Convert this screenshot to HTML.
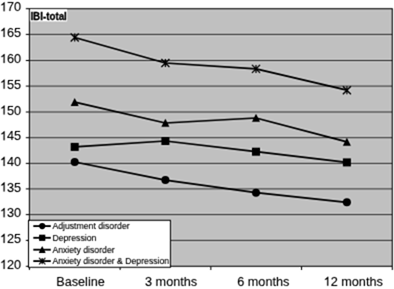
<!DOCTYPE html>
<html><head><meta charset="utf-8"><style>
html,body{margin:0;padding:0;background:#fff;width:394px;height:289px;overflow:hidden}
svg{display:block;filter:grayscale(1)}
text{font-family:"Liberation Sans",sans-serif;fill:#000}
.ax{font-size:12.7px;stroke:#000;stroke-width:0.1px}
.lg{font-size:8.7px;stroke:#000;stroke-width:0.12px}
.ttl{font-size:9.8px;font-weight:bold;stroke:#000;stroke-width:0.25px}
</style></head><body>
<svg width="394" height="289" viewBox="0 0 394 289">
<defs><filter id="bl" x="0" y="0" width="1" height="1" color-interpolation-filters="sRGB"><feConvolveMatrix order="5" kernelMatrix="4 -11 -46 -11 4 -11 32 137 32 -11 -46 137 578 137 -46 -11 32 137 32 -11 4 -11 -46 -11 4" divisor="998" edgeMode="duplicate" preserveAlpha="true"/></filter></defs>
<g filter="url(#bl)">
<rect width="394" height="289" fill="#fff"/>
<rect x="29.4" y="8.7" width="362.90000000000003" height="257.6" fill="#c0c0c0"/>
<line x1="29.4" y1="34.40" x2="392.3" y2="34.40" stroke="#333" stroke-width="1"/>
<line x1="29.4" y1="60.50" x2="392.3" y2="60.50" stroke="#333" stroke-width="1"/>
<line x1="29.4" y1="86.10" x2="392.3" y2="86.10" stroke="#333" stroke-width="1"/>
<line x1="29.4" y1="112.00" x2="392.3" y2="112.00" stroke="#333" stroke-width="1"/>
<line x1="29.4" y1="137.70" x2="392.3" y2="137.70" stroke="#333" stroke-width="1"/>
<line x1="29.4" y1="163.40" x2="392.3" y2="163.40" stroke="#333" stroke-width="1"/>
<line x1="29.4" y1="188.90" x2="392.3" y2="188.90" stroke="#333" stroke-width="1"/>
<line x1="29.4" y1="214.60" x2="392.3" y2="214.60" stroke="#333" stroke-width="1"/>
<line x1="29.4" y1="240.40" x2="392.3" y2="240.40" stroke="#333" stroke-width="1"/>
<rect x="29.4" y="8.7" width="362.90000000000003" height="257.6" fill="none" stroke="#111" stroke-width="1.1"/>
<line x1="25.8" y1="8.70" x2="29.4" y2="8.70" stroke="#000" stroke-width="1"/>
<g transform="translate(-0.089 11.30) scale(1 1.0)"><path d="M763 0H583V1147Q518 1085 412 1023Q306 961 222 930V1104Q373 1175 486 1276Q599 1377 646 1472H763Z" transform="scale(0.006201 -0.006201)" fill="#000" stroke="#000" stroke-width="16.1"/><text x="7.0631" y="0" class="ax">70</text></g>
<line x1="25.8" y1="34.40" x2="29.4" y2="34.40" stroke="#000" stroke-width="1"/>
<g transform="translate(-0.089 37.00) scale(1 1.0)"><path d="M763 0H583V1147Q518 1085 412 1023Q306 961 222 930V1104Q373 1175 486 1276Q599 1377 646 1472H763Z" transform="scale(0.006201 -0.006201)" fill="#000" stroke="#000" stroke-width="16.1"/><text x="7.0631" y="0" class="ax">65</text></g>
<line x1="25.8" y1="60.50" x2="29.4" y2="60.50" stroke="#000" stroke-width="1"/>
<g transform="translate(-0.089 63.10) scale(1 1.0)"><path d="M763 0H583V1147Q518 1085 412 1023Q306 961 222 930V1104Q373 1175 486 1276Q599 1377 646 1472H763Z" transform="scale(0.006201 -0.006201)" fill="#000" stroke="#000" stroke-width="16.1"/><text x="7.0631" y="0" class="ax">60</text></g>
<line x1="25.8" y1="86.10" x2="29.4" y2="86.10" stroke="#000" stroke-width="1"/>
<g transform="translate(-0.089 88.70) scale(1 1.0)"><path d="M763 0H583V1147Q518 1085 412 1023Q306 961 222 930V1104Q373 1175 486 1276Q599 1377 646 1472H763Z" transform="scale(0.006201 -0.006201)" fill="#000" stroke="#000" stroke-width="16.1"/><text x="7.0631" y="0" class="ax">55</text></g>
<line x1="25.8" y1="112.00" x2="29.4" y2="112.00" stroke="#000" stroke-width="1"/>
<g transform="translate(-0.089 114.60) scale(1 1.0)"><path d="M763 0H583V1147Q518 1085 412 1023Q306 961 222 930V1104Q373 1175 486 1276Q599 1377 646 1472H763Z" transform="scale(0.006201 -0.006201)" fill="#000" stroke="#000" stroke-width="16.1"/><text x="7.0631" y="0" class="ax">50</text></g>
<line x1="25.8" y1="137.70" x2="29.4" y2="137.70" stroke="#000" stroke-width="1"/>
<g transform="translate(-0.089 140.30) scale(1 1.0)"><path d="M763 0H583V1147Q518 1085 412 1023Q306 961 222 930V1104Q373 1175 486 1276Q599 1377 646 1472H763Z" transform="scale(0.006201 -0.006201)" fill="#000" stroke="#000" stroke-width="16.1"/><text x="7.0631" y="0" class="ax">45</text></g>
<line x1="25.8" y1="163.40" x2="29.4" y2="163.40" stroke="#000" stroke-width="1"/>
<g transform="translate(-0.089 166.00) scale(1 1.0)"><path d="M763 0H583V1147Q518 1085 412 1023Q306 961 222 930V1104Q373 1175 486 1276Q599 1377 646 1472H763Z" transform="scale(0.006201 -0.006201)" fill="#000" stroke="#000" stroke-width="16.1"/><text x="7.0631" y="0" class="ax">40</text></g>
<line x1="25.8" y1="188.90" x2="29.4" y2="188.90" stroke="#000" stroke-width="1"/>
<g transform="translate(-0.089 191.50) scale(1 1.0)"><path d="M763 0H583V1147Q518 1085 412 1023Q306 961 222 930V1104Q373 1175 486 1276Q599 1377 646 1472H763Z" transform="scale(0.006201 -0.006201)" fill="#000" stroke="#000" stroke-width="16.1"/><text x="7.0631" y="0" class="ax">35</text></g>
<line x1="25.8" y1="214.60" x2="29.4" y2="214.60" stroke="#000" stroke-width="1"/>
<g transform="translate(-0.089 217.20) scale(1 1.0)"><path d="M763 0H583V1147Q518 1085 412 1023Q306 961 222 930V1104Q373 1175 486 1276Q599 1377 646 1472H763Z" transform="scale(0.006201 -0.006201)" fill="#000" stroke="#000" stroke-width="16.1"/><text x="7.0631" y="0" class="ax">30</text></g>
<line x1="25.8" y1="240.40" x2="29.4" y2="240.40" stroke="#000" stroke-width="1"/>
<g transform="translate(-0.089 243.00) scale(1 1.0)"><path d="M763 0H583V1147Q518 1085 412 1023Q306 961 222 930V1104Q373 1175 486 1276Q599 1377 646 1472H763Z" transform="scale(0.006201 -0.006201)" fill="#000" stroke="#000" stroke-width="16.1"/><text x="7.0631" y="0" class="ax">25</text></g>
<line x1="25.8" y1="266.30" x2="29.4" y2="266.30" stroke="#000" stroke-width="1"/>
<g transform="translate(-0.089 268.90) scale(1 1.0)"><path d="M763 0H583V1147Q518 1085 412 1023Q306 961 222 930V1104Q373 1175 486 1276Q599 1377 646 1472H763Z" transform="scale(0.006201 -0.006201)" fill="#000" stroke="#000" stroke-width="16.1"/><text x="7.0631" y="0" class="ax">20</text></g>
<line x1="29.40" y1="266.3" x2="29.40" y2="270" stroke="#000" stroke-width="1"/>
<line x1="120.12" y1="266.3" x2="120.12" y2="270" stroke="#000" stroke-width="1"/>
<line x1="210.85" y1="266.3" x2="210.85" y2="270" stroke="#000" stroke-width="1"/>
<line x1="301.57" y1="266.3" x2="301.57" y2="270" stroke="#000" stroke-width="1"/>
<line x1="392.30" y1="266.3" x2="392.30" y2="270" stroke="#000" stroke-width="1"/>
<text transform="translate(80.5 285.8) scale(1 1.0)" text-anchor="middle" class="ax">Baseline</text>
<text transform="translate(171.1 285.8) scale(1 1.0)" text-anchor="middle" class="ax">3 months</text>
<text transform="translate(263.3 285.8) scale(1 1.0)" text-anchor="middle" class="ax">6 months</text>
<g transform="translate(323.575 285.80) scale(1 1.0)"><path d="M763 0H583V1147Q518 1085 412 1023Q306 961 222 930V1104Q373 1175 486 1276Q599 1377 646 1472H763Z" transform="scale(0.006201 -0.006201)" fill="#000" stroke="#000" stroke-width="16.1"/><text x="7.0631" y="0" class="ax">2 months</text></g>
<polyline points="74.7,162.0 165.4,180.1 256.0,192.7 346.9,202.3" fill="none" stroke="#000" stroke-width="1.7" stroke-linejoin="round"/>
<circle cx="74.7" cy="162.0" r="4.0" fill="#000"/>
<circle cx="165.4" cy="180.1" r="4.0" fill="#000"/>
<circle cx="256.0" cy="192.7" r="4.0" fill="#000"/>
<circle cx="346.9" cy="202.3" r="4.0" fill="#000"/>
<polyline points="74.7,146.9 165.4,141.0 256.0,151.7 346.9,162.4" fill="none" stroke="#000" stroke-width="1.7" stroke-linejoin="round"/>
<rect x="70.7" y="142.9" width="8.0" height="8.0" fill="#000"/>
<rect x="161.4" y="137.0" width="8.0" height="8.0" fill="#000"/>
<rect x="252.0" y="147.7" width="8.0" height="8.0" fill="#000"/>
<rect x="342.9" y="158.4" width="8.0" height="8.0" fill="#000"/>
<polyline points="74.7,102.2 165.4,123.0 256.0,118.0 346.9,141.9" fill="none" stroke="#000" stroke-width="1.7" stroke-linejoin="round"/>
<polygon points="74.7,98.1 78.7,106.1 70.7,106.1" fill="#000"/>
<polygon points="165.4,118.8 169.4,126.8 161.4,126.8" fill="#000"/>
<polygon points="256.0,113.8 260.0,121.8 252.0,121.8" fill="#000"/>
<polygon points="346.9,137.8 350.9,145.8 342.9,145.8" fill="#000"/>
<polyline points="74.7,37.5 165.4,63.0 256.0,68.9 346.9,90.2" fill="none" stroke="#000" stroke-width="1.7" stroke-linejoin="round"/>
<path d="M70.7,33.5L78.7,41.5M78.7,33.5L70.7,41.5M74.7,33.5L74.7,41.5" stroke="#000" stroke-width="1.25" fill="none"/>
<path d="M161.4,59.0L169.4,67.0M169.4,59.0L161.4,67.0M165.4,59.0L165.4,67.0" stroke="#000" stroke-width="1.25" fill="none"/>
<path d="M252.0,64.9L260.0,72.9M260.0,64.9L252.0,72.9M256.0,64.9L256.0,72.9" stroke="#000" stroke-width="1.25" fill="none"/>
<path d="M342.9,86.2L350.9,94.2M350.9,86.2L342.9,94.2M346.9,86.2L346.9,94.2" stroke="#000" stroke-width="1.25" fill="none"/>
<rect x="28.5" y="220.3" width="141.9" height="47.0" fill="#fff" stroke="#000" stroke-width="1"/>
<line x1="33.3" y1="226.1" x2="50.8" y2="226.1" stroke="#000" stroke-width="1.8"/>
<circle cx="42.2" cy="226.1" r="3.1" fill="#000"/>
<text transform="translate(52.4 229.00) scale(1 1.1)" class="lg">Adjustment disorder</text>
<line x1="33.3" y1="237.8" x2="50.8" y2="237.8" stroke="#000" stroke-width="1.8"/>
<rect x="39.1" y="234.70000000000002" width="6.2" height="6.2" fill="#000"/>
<text transform="translate(52.4 240.70) scale(1 1.1)" class="lg">Depression</text>
<line x1="33.3" y1="249.7" x2="50.8" y2="249.7" stroke="#000" stroke-width="1.8"/>
<polygon points="42.2,246.0 45.7,253.0 38.7,253.0" fill="#000"/>
<text transform="translate(52.4 252.60) scale(1 1.1)" class="lg">Anxiety disorder</text>
<line x1="33.3" y1="261.1" x2="50.8" y2="261.1" stroke="#000" stroke-width="1.8"/>
<path d="M39.0,257.90000000000003L45.400000000000006,264.3M45.400000000000006,257.90000000000003L39.0,264.3M42.2,257.90000000000003L42.2,264.3" stroke="#000" stroke-width="1.15" fill="none"/>
<text transform="translate(52.4 264.00) scale(1 1.1)" class="lg">Anxiety disorder &amp; Depression</text>
<rect x="29.9" y="9.2" width="37.2" height="12.2" fill="#fff"/>
<text transform="translate(30.4 19.8) scale(1 1.2)" class="ttl">IBI-total</text>
</g>
</svg>
</body></html>
